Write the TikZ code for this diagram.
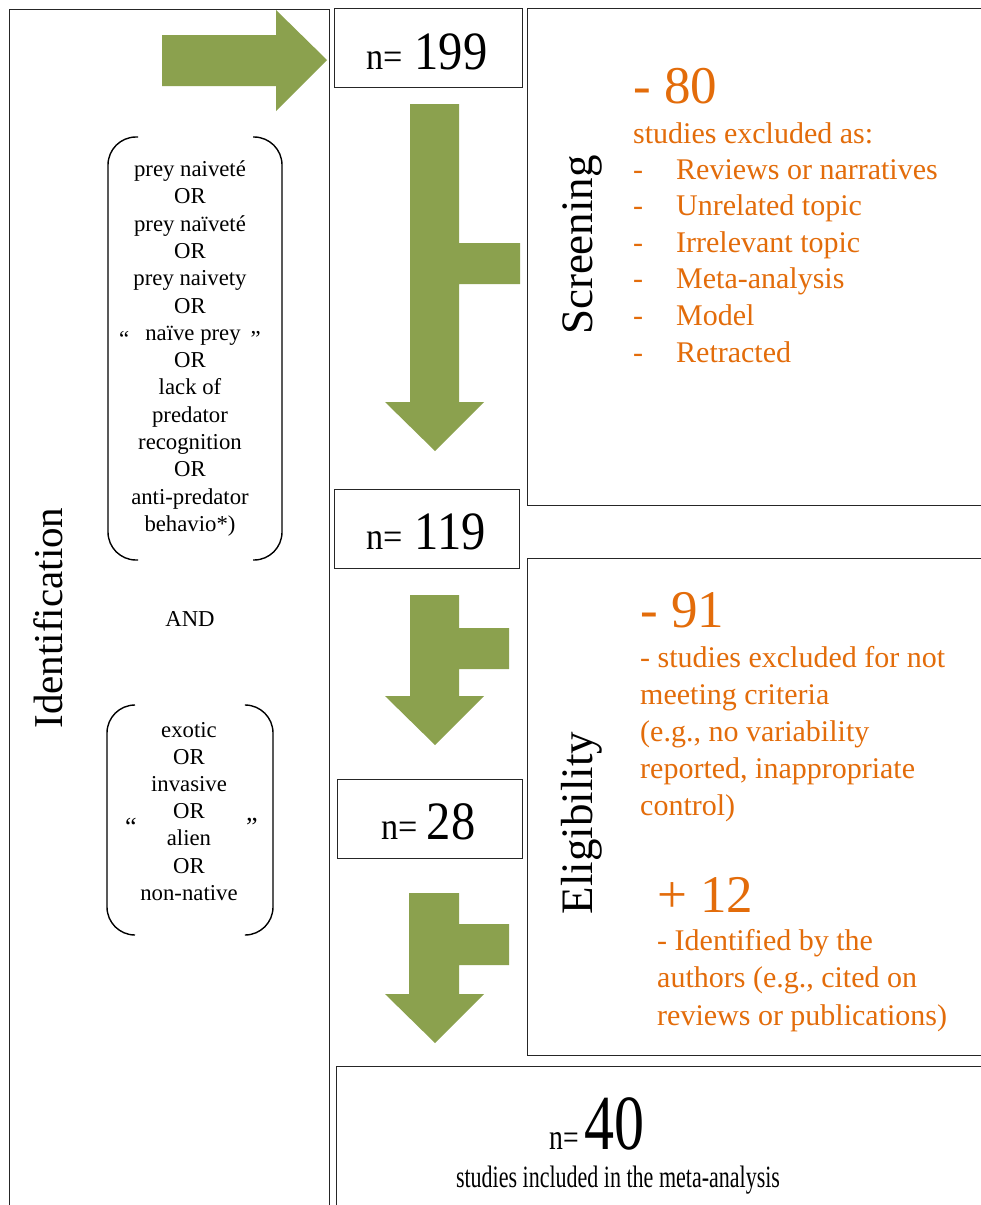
\documentclass[tikz,border=0pt]{standalone}
\usepackage{fontspec}
\setmainfont{Liberation Serif}
\definecolor{arrowgreen}{RGB}{139,161,78}
\definecolor{exclorange}{RGB}{227,108,10}
\begin{document}
\begin{tikzpicture}[x=1pt,y=-1pt,
  box/.style={draw=black!85, line width=1.3pt, fill=white, inner sep=0pt, anchor=north west},
  greenarrow/.style={fill=arrowgreen, draw=none},
  bracket/.style={draw=black, line width=1.4pt, rounded corners=28pt},
  kw/.style={font=\fontsize{22.75}{27.3}\selectfont, inner sep=0pt, anchor=base},
  phase/.style={font=\fontsize{45}{50}\selectfont, rotate=90, inner sep=0pt, anchor=base},
  count/.style={inner sep=0pt, anchor=base, xscale=0.9},
  ornum/.style={text=exclorange, font=\fontsize{53}{60}\selectfont, anchor=base west, inner sep=0pt},
  ortext/.style={text=exclorange, font=\fontsize{30}{37}\selectfont, anchor=base west, inner sep=0pt},
]
\useasboundingbox (0,0) rectangle (981,1205);
\clip (0,0) rectangle (981,1205);

% boxes
\node[box, minimum width=320pt, minimum height=1230pt] (idbox) at (9,9) {};
\node[box, minimum width=188pt, minimum height=79pt] (n199) at (334,8) {};
\node[box, minimum width=480pt, minimum height=497pt] (screen) at (527,8) {};
\node[box, minimum width=185pt, minimum height=79pt] (n119) at (334,489) {};
\node[box, minimum width=480pt, minimum height=497pt] (elig) at (527,558) {};
\node[box, minimum width=185pt, minimum height=79pt] (n28) at (337,779) {};
\node[box, minimum width=660pt, minimum height=200pt] (final) at (336,1066) {};

% green block arrows
\fill[greenarrow] (162,35) -- (276,35) -- (276,10) -- (327,60) -- (276,111) -- (276,86) -- (162,86) -- cycle;
\fill[greenarrow] (410,104) -- (459,104) -- (459,243) -- (520,243) -- (520,284) -- (459,284) -- (459,402) -- (484,402) -- (435,451) -- (385,402) -- (410,402) -- cycle;
\fill[greenarrow] (410,595) -- (459,595) -- (459,628) -- (509,628) -- (509,669) -- (459,669) -- (459,696) -- (484,696) -- (435,745) -- (385,696) -- (410,696) -- cycle;
\fill[greenarrow] (409,893) -- (459,893) -- (459,924) -- (509,924) -- (509,965) -- (459,965) -- (459,994) -- (484,994) -- (435,1043) -- (385,994) -- (409,994) -- cycle;

% brackets
\draw[bracket] (138,137) -- (108,137) -- (108,560) -- (138,560);
\draw[bracket] (253,137) -- (282,137) -- (282,560) -- (253,560);
\draw[bracket] (135,705) -- (107,705) -- (107,935) -- (135,935);
\draw[bracket] (247,705) -- (273,705) -- (273,935) -- (247,935);

% search terms
\foreach \t [count=\i from 0] in {prey naiveté, OR, prey naïveté, OR, prey naivety, OR,
  {\raisebox{-6pt}{“}\hspace{16pt}naïve prey\hspace{10pt}\raisebox{-6pt}{”}\hspace{5pt}}, OR, lack of, predator, recognition, OR, anti-predator, behavio*)}
  \node[kw] (kwa\i) at (190,176.5+27.3*\i) {\t};
\node[kw] (andkw) at (190,626.5) {AND};
\foreach \t [count=\i from 0] in {exotic, OR, invasive, OR, alien, OR, non-native}
  \node[kw] (kwb\i) at (189,737+27.2*\i) {\t};
\node[kw, font=\fontsize{26}{30}\selectfont] (qopen) at (131,835) {“};
\node[kw, font=\fontsize{26}{30}\selectfont] (qclose) at (252,835) {”};

% phase labels
\node[phase, font=\fontsize{41}{46}\selectfont] (idlab) at (62,618) {Identification};
\node[phase] (scrlab) at (592,245) {Screening};
\node[phase] (eliglab) at (592,823) {Eligibility};

% counts
\node[count] (t199) at (427,69) {{\fontsize{38}{40}\selectfont n=}\hspace{13pt}{\fontsize{54}{60}\selectfont 199}};
\node[count] (t119) at (426,549) {{\fontsize{38}{40}\selectfont n=}\hspace{13pt}{\fontsize{54}{60}\selectfont 119}};
\node[count] (t28) at (428.5,839) {{\fontsize{38}{40}\selectfont n=}\hspace{10pt}{\fontsize{54}{60}\selectfont 28}};
\node[count, xscale=0.855] (t40) at (597,1149) {{\fontsize{36}{40}\selectfont n=}\hspace{8pt}{\fontsize{78}{80}\selectfont 40}};
\node[inner sep=0pt, anchor=base, xscale=0.71, font=\fontsize{31}{36}\selectfont] (t40b) at (618,1187) {studies included in the meta-analysis};

% screening exclusions
\node[ornum] (m80) at (633,103) {- 80};
\node[ortext] (s0) at (633,143) {studies excluded as:};
\foreach \t [count=\i from 1] in {Reviews or narratives, Unrelated topic, Irrelevant topic, Meta-analysis, Model, Retracted}
  \node[ortext] (s\i) at (633,142.5+36.6*\i) {\makebox[43pt][l]{-}\t};

% eligibility
\node[ornum] (m91) at (640,627) {- 91};
\foreach \t [count=\i from 0] in {- studies excluded for not, meeting criteria, {(e.g., no variability}, {reported, inappropriate}, control)}
  \node[ortext] (e\i) at (640,667+37*\i) {\t};
\node[ornum] (p12) at (657,912) {+ 12};
\foreach \t [count=\i from 0] in {- Identified by the, {authors (e.g., cited on}, reviews or publications)}
  \node[ortext] (f\i) at (657,950+37.5*\i) {\t};
\end{tikzpicture}
\end{document}
